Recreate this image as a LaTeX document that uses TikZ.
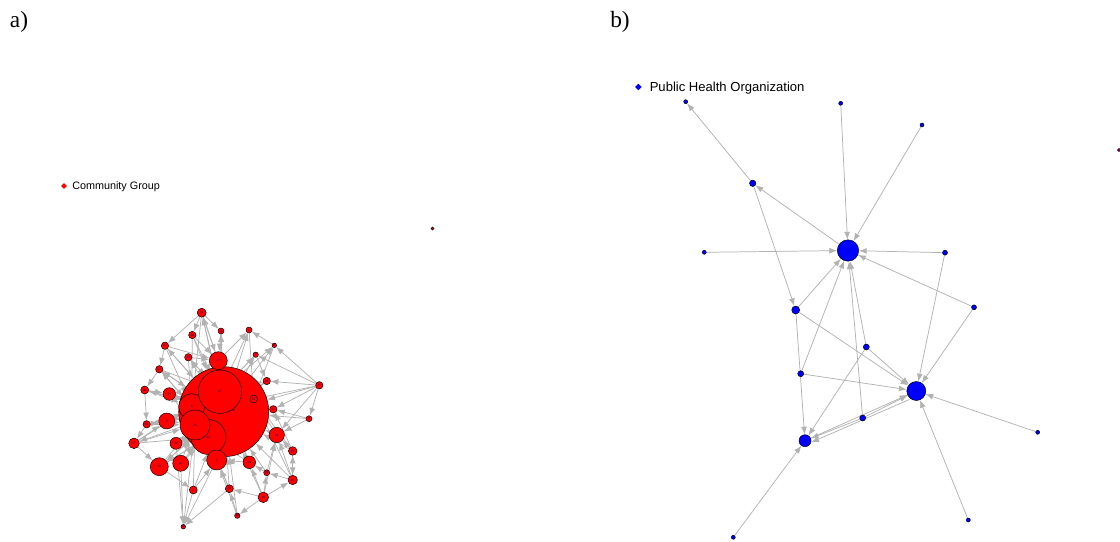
\documentclass[tikz,border=0pt]{standalone}
\usepackage{fontspec}
\setmainfont{Liberation Serif}
\newfontfamily\legendfont{Liberation Sans}
\usetikzlibrary{arrows.meta,shapes.geometric}
\pgfdeclarelayer{links}
\pgfsetlayers{links,main}
\tikzset{
  vtx/.style={circle, draw=black, line width=0.35pt, inner sep=0pt,
    font=\legendfont\fontsize{2.4}{3}\selectfont, text=blue!45!black,
    minimum size=#1*1.5pt},
  cg/.style={vtx=#1, fill=red},
  ph/.style={vtx=#1, fill=blue},
  lnk/.style={draw=black!30, line width=0.55pt, -{Latex[length=5.8pt,width=4.4pt]}},
  key/.style={diamond, inner sep=0pt, minimum size=#1},
  panel/.style={font=\fontsize{17.5}{19}\selectfont},
}
\begin{document}
\begin{tikzpicture}[x=0.75pt,y=-0.75pt]
\begin{pgfonlayer}{links}
\fill[white] (0,0) rectangle (1120,542);
\end{pgfonlayer}
\useasboundingbox (0,0) rectangle (1120,542);

% panel labels
\node[panel] (la) at (19,22) {a)};
\node[panel] (lb) at (620,22) {b)};

% ---------- a) community groups ----------
\node[key=4.4pt, fill=red] (ka) at (64,186) {};
\node[anchor=west, font=\legendfont\fontsize{8.1}{9}\selectfont, inner sep=0pt] (kat) at (72,186.5) {Community Group};

\node[cg=45] (A0) at (223.7,411.7) {\raisebox{0pt}[0pt][0pt]{\hspace{14pt}13}};
\node[cg=13] (A6) at (191.7,406.7) {6};
\node[cg=17.5] (A23) at (208.5,437) {23};
\node[cg=21.7] (A17) at (220,391.7) {17};
\node[cg=15] (A26) at (195,425) {26};
\node[cg=4] (A21) at (253.7,399) {21};

\node[cg=4.5] (n1) at (201.7,312.7) {11};
\node[cg=3.7] (n2) at (192.3,335) {20};
\node[cg=3] (n3) at (221,331) {3};
\node[cg=3] (n4) at (249,330) {1};
\node[cg=3.7] (n5) at (165,345.7) {27};
\node[cg=2.3] (n6) at (274.3,345.3) {8};
\node[cg=2.7] (n7) at (255.7,354.7) {9};
\node[cg=3.7] (n8) at (188.3,357.3) {10};
\node[cg=9] (n9) at (218.3,360.7) {27};
\node[cg=3.7] (n10) at (159.3,369.3) {22};
\node[cg=3.7] (n11) at (266.7,381) {20};
\node[cg=3.7] (n12) at (319.3,385.3) {25};
\node[cg=4] (n13) at (144.7,390) {28};
\node[cg=6.3] (n14) at (169.3,394) {31};
\node[cg=3.7] (n15) at (273.3,409.3) {2};
\node[cg=8] (n16) at (166.7,421) {9};
\node[cg=3.7] (n17) at (146.7,424.3) {16};
\node[cg=3] (n18) at (309,418.7) {4};
\node[cg=7.7] (n19) at (276.7,435) {14};
\node[cg=5.3] (n20) at (134,443.3) {17};
\node[cg=6] (n21) at (176,443.3) {30};
\node[cg=4.3] (n22) at (292.7,451) {15};
\node[cg=10] (n23) at (216.7,460) {5};
\node[cg=9] (n24) at (159.3,466.7) {28};
\node[cg=8] (n25) at (180.7,463.3) {22};
\node[cg=6.3] (n26) at (249.3,462.3) {24};
\node[cg=3] (n27) at (266.7,472.7) {29};
\node[cg=4.7] (n28) at (292.7,480) {16};
\node[cg=4] (n29) at (193.3,490) {7};
\node[cg=4] (n30) at (229.3,488.7) {25};
\node[cg=5.3] (n31) at (263.3,497.3) {19};
\node[cg=2.7] (n32) at (237.3,515.7) {10};
\node[cg=2.3] (n33) at (183.3,526.7) {12};

\node[cg=1.5] (iso) at (432.5,228.5) {};

\begin{pgfonlayer}{links}
\foreach \s/\t in {
  n1/n2, n1/n3, n1/n5, n1/n9, A0/n1, A17/n1, n9/n1,
  A0/n3, A17/n3, n2/n9, n3/n9, n2/A0, n2/A17,
  A0/n4, A17/n4, n9/n4, A0/n6, A17/n6, A0/n7, A17/n7,
  n5/n10, n5/A6, A0/n5, n5/n9, A0/n8, n8/A17, n8/A6,
  n10/A0, n10/n13, n10/A6, n9/A0, A0/n9, n9/A17,
  A0/n11, A17/n11, n12/n11, n12/n15, n12/n18, n12/A21, n12/A0, n12/n19,
  n18/n19, n18/n15, n13/A0, n13/n14, n13/n17, n14/A0, n14/A6,
  n15/A0, n16/A0, n16/A6, n17/n16, n17/A0, n17/n20,
  n20/A26, n20/n24, n20/n16, n20/A6, n21/A23, n21/A0,
  n22/n19, n22/A0, n22/n15, n23/A0, n23/A17, n24/A26, n24/n29, n24/A0,
  n25/A23, n25/A0, n26/A0, n26/n23, n26/A17, n27/A0, n27/n26,
  n28/n22, n28/n19, n28/A0, n28/n27,
  n29/n33, n29/n23, n29/A0, n30/A0, n30/n23,
  n31/n26, n31/n28, n31/n32, n31/n30, n31/n27, n31/A0, n32/n30, n32/A0,
  A26/n33, n23/n33, n25/n33, n30/n33, n21/n33,
  n11/A0, n7/A17, n6/n4, n19/A0, n19/A21, n15/A21, n22/n28,
  A0/n24, A0/n20, A0/n13, A0/n10, A0/n14, A0/n17,
  n1/A6, n2/A6, n3/A0, n4/A21, n5/A0, n6/A21, n7/n11, n8/n9,
  n10/A17, n12/n6, n12/n7, n13/A6, n14/A26, n16/A26, n17/A26,
  n20/A23, n21/A26, n24/A23, n25/A26, n26/A23, n27/n19,
  n28/A21, n29/A26, n30/A23, n31/n19, n32/n23, n22/A21, n18/A0,
  A17/n8, A6/n10, A23/n24, A0/n16}
  \draw[lnk] (\s) -- (\t);
\end{pgfonlayer}

% ---------- b) public health organisations ----------
\node[key=5pt, fill=blue] (kb) at (638.3,87) {};
\node[anchor=west, font=\legendfont\fontsize{9.8}{11}\selectfont, inner sep=0pt] (kbt) at (649.5,88) {Public Health Organization};

\node[ph=10.7] (B1) at (848,250.5) {12};
\node[ph=9.5] (B2) at (916.3,391) {2};
\node[ph=6] (B3) at (805,440.7) {1};
\node[ph=2] (p1) at (685.7,101.7) {};
\node[ph=2] (p2) at (840.7,103.3) {};
\node[ph=2] (p3) at (922,125) {};
\node[ph=3.2] (p4) at (752.7,183.3) {};
\node[ph=2] (p5) at (704.3,252.3) {};
\node[ph=2.5] (p6) at (945,252.7) {};
\node[ph=4] (p7) at (795.7,310) {};
\node[ph=2.5] (p8) at (974,307.3) {};
\node[ph=3] (p9) at (866.3,347) {};
\node[ph=3] (p10) at (800.7,373.7) {};
\node[ph=3] (p11) at (862.7,418) {};
\node[ph=2] (p12) at (1037.7,432.3) {};
\node[ph=2] (p13) at (968.3,520) {};
\node[ph=2] (p14) at (733.3,537.3) {};
\node[vtx=1.6, fill=red!60!blue] (edge) at (1119,150) {};

\begin{pgfonlayer}{links}
\foreach \s/\t in {
  p4/p1, B1/p4, p2/B1, p3/B1, p5/B1, p4/p7, p6/B1, p8/B1,
  p7/B1, p10/B1, p9/B1, p11/B1, p6/B2, p8/B2, p7/B2, p9/B2,
  p10/B2, p11/B2, B3/B2, p12/B2, p13/B2, p7/B3, p9/B3, p11/B3,
  p14/B3}
  \draw[lnk] (\s) -- (\t);
\draw[lnk] ([yshift=-1.2pt]B2.south west) -- ([yshift=-1.2pt]B3.east);
\end{pgfonlayer}
\end{tikzpicture}
\end{document}
